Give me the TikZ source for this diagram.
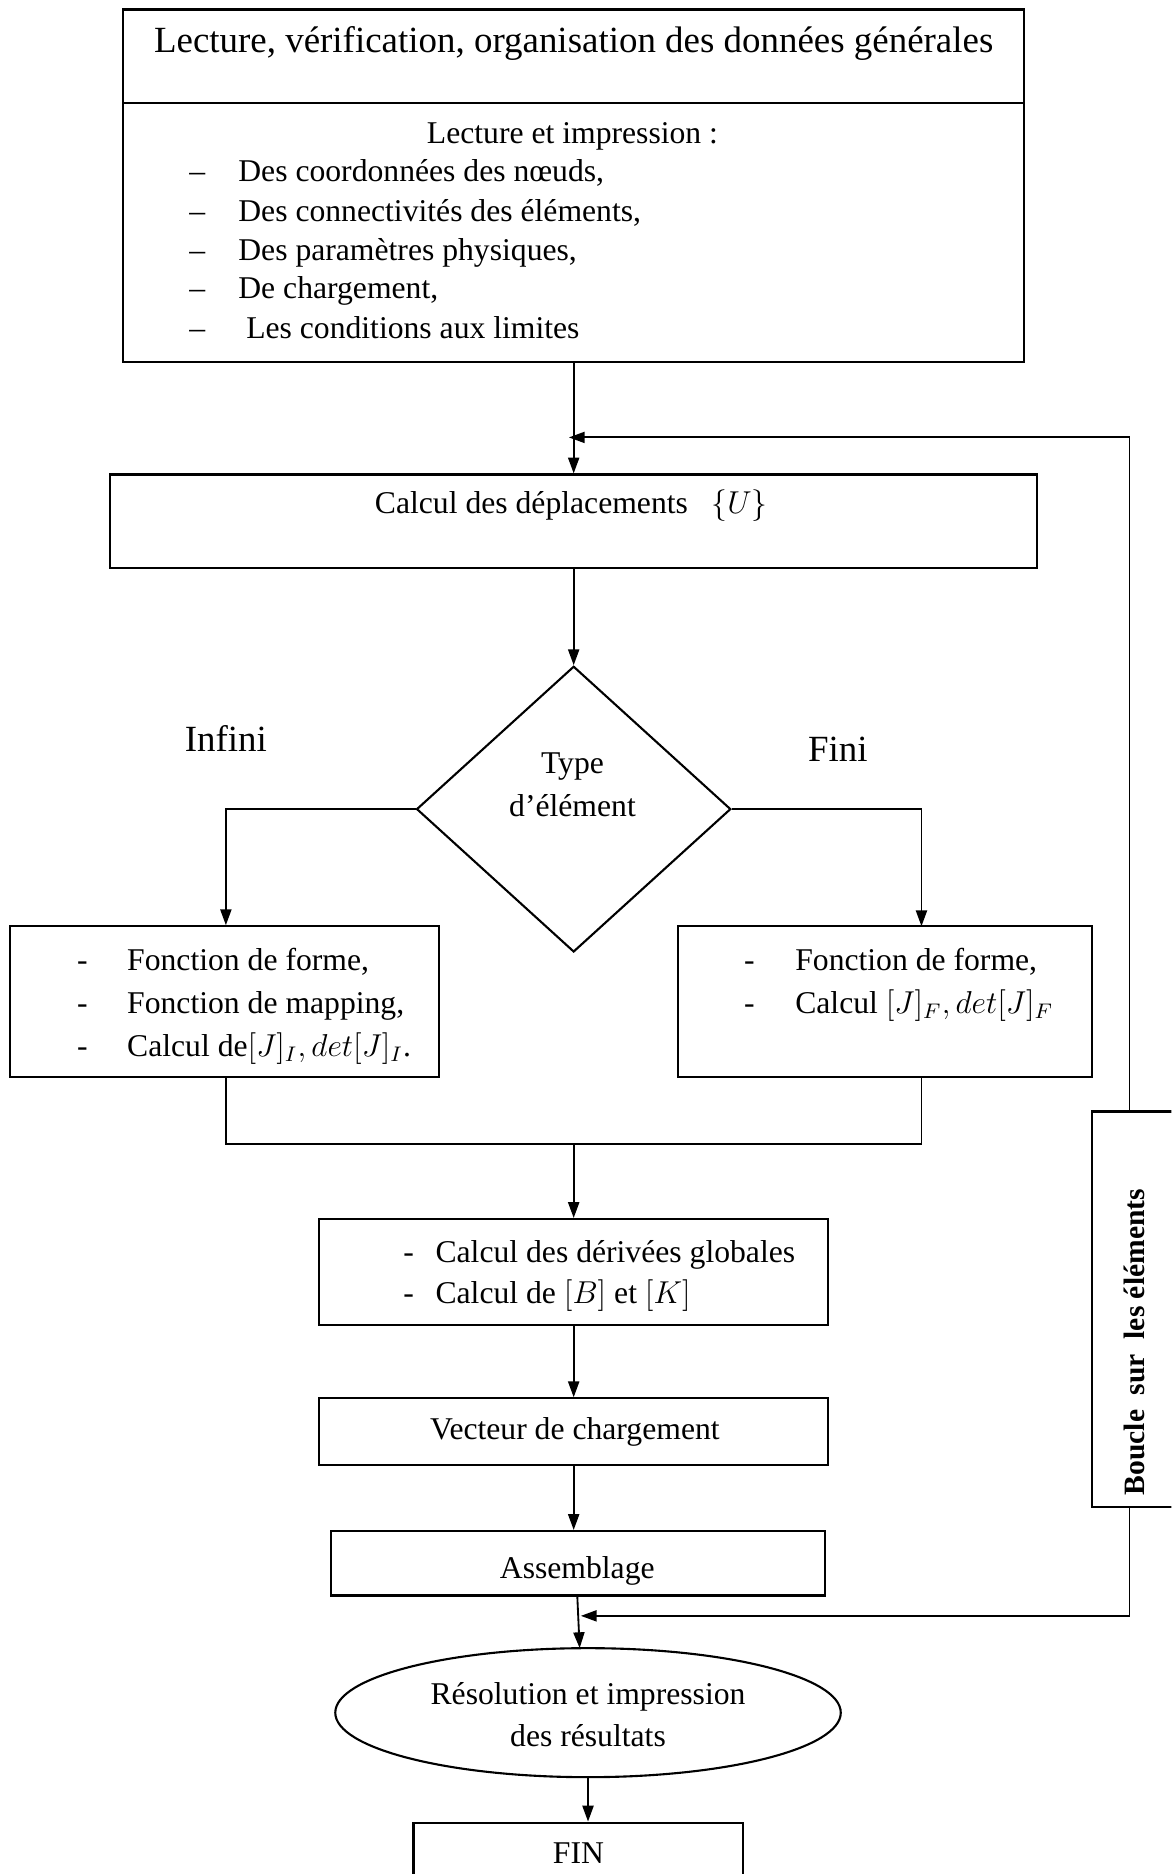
\documentclass[tikz,border=0pt]{standalone}
\usepackage{fontspec}
\setmainfont{Liberation Serif}
\usetikzlibrary{arrows.meta,shapes.geometric,fit}
\tikzset{
  box/.style={draw, line width=0.8pt, inner sep=0pt},
  txt/.style={inner sep=0pt, yshift=-1.8pt, font=\fontsize{12}{16}\selectfont},
  big/.style={inner sep=0pt, yshift=-1.8pt, font=\fontsize{14}{17}\selectfont},
  ln/.style={line width=0.7pt},
  arr/.style={line width=0.7pt, -{Triangle[length=6pt,width=4.2pt]}},
}
\begin{document}
\begin{tikzpicture}[x=0.453pt, y=-0.453pt]
\useasboundingbox (0,0) rectangle (980,1568);
\clip (0,0) rectangle (980,1568);
% ---------- boxes ----------
\node[box, fit={(103,8) (857,303)}] (top) {};
\coordinate (divL) at (103,86);
\coordinate (divR) at (857,86);
\draw[line width=0.8pt] (divL) -- (divR);
\node[box, fit={(92,397) (868,475)}] (calc) {};
\node[box, diamond, minimum width=119.1pt, minimum height=108.3pt] (dia) at (480,677) {};
\node[box, fit={(8,775) (367,901)}] (left) {};
\node[box, fit={(567,775) (914,901)}] (right) {};
\node[box, fit={(267,1020) (693,1109)}] (der) {};
\node[box, fit={(267,1170) (693,1226)}] (vec) {};
\node[box, fit={(277,1281) (690,1335)}] (asm) {};
\node[box, ellipse, minimum width=191.6pt, minimum height=48.9pt] (res) at (492,1433) {};
\node[box, fit={(346,1525) (622,1590)}] (fin) {};
\node[box, fit={(914,930) (1000,1261)}] (bouc) {};
% ---------- texts ----------
\node[big, anchor=mid] (t0) at (480,35) {Lecture, vérification, organisation des données générales};
\node[txt, anchor=mid] (t1) at (479,111) {Lecture et impression :};
\foreach \yy/\tt [count=\i] in {143/{Des coordonnées des nœuds,},176/{Des connectivités des éléments,},209/{Des paramètres physiques,},241/{De chargement,},274/{\ Les conditions aux limites}}{
  \node[txt, anchor=mid] (d\i) at (165,\yy) {–};
  \node[txt, anchor=mid west] (l\i) at (199,\yy) {\tt};
}
\node[txt, anchor=mid] (tc) at (478,421) {Calcul des déplacements\hspace{9pt}$\{U\}$};
\node[txt, anchor=mid] (ty1) at (479,638) {Type};
\node[txt, anchor=mid] (ty2) at (479,674) {d’élément};
\node[big, anchor=mid] (inf) at (189,620) {Infini};
\node[big, anchor=mid] (fin1) at (701,628) {Fini};
\foreach \yy/\tt [count=\i] in {803/{Fonction de forme,},839/{Fonction de mapping,},875/{Calcul de$[J]_I, det[J]_I$.}}{
  \node[txt, anchor=mid] (ld\i) at (69,\yy) {-};
  \node[txt, anchor=mid west] (lt\i) at (106,\yy) {\tt};
}
\foreach \yy/\tt [count=\i] in {803/{Fonction de forme,},839/{Calcul $[J]_F, det[J]_F$}}{
  \node[txt, anchor=mid] (rd\i) at (627,\yy) {-};
  \node[txt, anchor=mid west] (rt\i) at (665,\yy) {\tt};
}
\foreach \yy/\tt [count=\i] in {1047/{Calcul des dérivées globales},1082/{Calcul de $[B]$ et $[K]$}}{
  \node[txt, anchor=mid] (dd\i) at (342,\yy) {-};
  \node[txt, anchor=mid west] (dt\i) at (364,\yy) {\tt};
}
\node[txt, anchor=mid] (tv) at (481,1195) {Vecteur de chargement};
\node[txt, anchor=mid] (ta) at (483,1312) {Assemblage};
\node[txt, anchor=mid] (tr1) at (492,1417) {Résolution et impression};
\node[txt, anchor=mid] (tr2) at (492,1452) {des résultats};
\node[txt, anchor=mid] (tf) at (484,1550) {FIN};
\node[inner sep=0pt, rotate=90, font=\bfseries\fontsize{11.2}{13}\selectfont] (tb) at (949,1123) {Boucle\ \ sur\ \ les éléments};
% ---------- connectors ----------
\coordinate (j1) at (480,366);
\coordinate (j1tip) at (476,366);
\coordinate (lt) at (945,366);
\coordinate (lb) at (945,1352);
\coordinate (j2) at (486,1352);
\coordinate (rar) at (771,775);
\coordinate (mL) at (189,957);
\coordinate (mR) at (771,957);
\coordinate (mM) at (480,957);
\coordinate (asmb) at (483,1335);
\coordinate (rtop) at (485,1379);
\draw[ln] (top.south) -- (j1);
\draw[arr] (j1) -- (calc.north);
\draw[arr] (bouc.north -| lt) -- (lt) -- (j1tip);
\draw[arr] (bouc.south -| lb) -- (lb) -- (j2);
\draw[arr] (calc.south) -- (dia.north);
\draw[arr] (dia.west) -| (left.north -| mL);
\draw[arr] (dia.east) -| (rar);
\draw[ln] (left.south -| mL) -- (mL) -- (mR) -- (right.south -| mR);
\draw[arr] (mM) -- (der.north);
\draw[arr] (der.south) -- (vec.north);
\draw[arr] (vec.south) -- (vec.south |- asm.north);
\draw[arr] (asmb) -- (rtop);
\draw[arr] (res.south) -- (res.south |- fin.north);
\end{tikzpicture}
\end{document}
